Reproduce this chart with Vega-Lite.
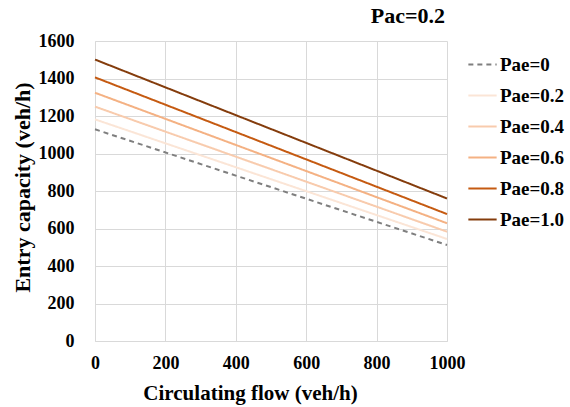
{
  "$schema": "https://vega.github.io/schema/vega-lite/v6.json",
  "autosize": "none",
  "width": 352,
  "height": 300,
  "padding": {"left": 95, "top": 41, "right": 123, "bottom": 66},
  "background": "white",
  "title": {
    "text": "Pac=0.2",
    "anchor": "end",
    "frame": "group",
    "dx": -2,
    "offset": 4,
    "font": "Liberation Serif",
    "fontSize": 22,
    "fontWeight": "bold",
    "color": "black"
  },
  "config": {
    "view": {"stroke": null},
    "font": "Liberation Serif"
  },
  "data": {
    "values": [
      {"flow": 0, "cap": 1129, "series": "Pae=0"},
      {"flow": 1000, "cap": 512, "series": "Pae=0"},
      {"flow": 0, "cap": 1182, "series": "Pae=0.2"},
      {"flow": 1000, "cap": 544, "series": "Pae=0.2"},
      {"flow": 0, "cap": 1250, "series": "Pae=0.4"},
      {"flow": 1000, "cap": 583, "series": "Pae=0.4"},
      {"flow": 0, "cap": 1324, "series": "Pae=0.6"},
      {"flow": 1000, "cap": 628, "series": "Pae=0.6"},
      {"flow": 0, "cap": 1406, "series": "Pae=0.8"},
      {"flow": 1000, "cap": 677, "series": "Pae=0.8"},
      {"flow": 0, "cap": 1501, "series": "Pae=1.0"},
      {"flow": 1000, "cap": 760, "series": "Pae=1.0"}
    ]
  },
  "mark": {"type": "line", "strokeWidth": 2},
  "encoding": {
    "x": {
      "field": "flow",
      "type": "quantitative",
      "scale": {"domain": [0, 1000], "nice": false},
      "axis": {
        "title": "Circulating flow (veh/h)",
        "values": [0, 200, 400, 600, 800, 1000],
        "format": "d",
        "labelFont": "Liberation Serif",
        "labelFontSize": 18,
        "labelFontWeight": "bold",
        "labelColor": "black",
        "labelPadding": 13,
        "titleFont": "Liberation Serif",
        "titleFontSize": 21,
        "titleFontWeight": "bold",
        "titleColor": "black",
        "titleX": 155,
        "titleY": 41,
        "titleAlign": "center",
        "titleBaseline": "top",
        "ticks": false,
        "grid": true,
        "gridColor": "#d9d9d9",
        "domainColor": "#d9d9d9",
        "labelFlush": false
      }
    },
    "y": {
      "field": "cap",
      "type": "quantitative",
      "scale": {"domain": [0, 1600], "nice": false},
      "axis": {
        "title": "Entry capacity (veh/h)",
        "values": [0, 200, 400, 600, 800, 1000, 1200, 1400, 1600],
        "format": "d",
        "labelFont": "Liberation Serif",
        "labelFontSize": 18,
        "labelFontWeight": "bold",
        "labelColor": "black",
        "labelPadding": 21,
        "titleFont": "Liberation Serif",
        "titleFontSize": 22,
        "titleFontWeight": "bold",
        "titleColor": "black",
        "titleX": -73,
        "titleY": 146,
        "titleAngle": -90,
        "titleAlign": "center",
        "titleBaseline": "middle",
        "ticks": false,
        "grid": true,
        "gridColor": "#d9d9d9",
        "domainColor": "#d9d9d9",
        "labelFlush": false
      }
    },
    "color": {
      "field": "series",
      "type": "nominal",
      "scale": {
        "domain": ["Pae=0", "Pae=0.2", "Pae=0.4", "Pae=0.6", "Pae=0.8", "Pae=1.0"],
        "range": ["#7f7f7f", "#fbe5d6", "#f8cbad", "#f4b183", "#c55a11", "#843c0c"]
      },
      "legend": {
        "title": null,
        "orient": "none",
        "legendX": 372,
        "legendY": 8,
        "symbolType": "stroke",
        "symbolSize": 800,
        "symbolStrokeWidth": 2,
        "labelFont": "Liberation Serif",
        "labelFontSize": 19,
        "labelFontWeight": "bold",
        "labelColor": "black",
        "labelOffset": 2,
        "rowPadding": 5
      }
    },
    "strokeDash": {
      "field": "series",
      "type": "nominal",
      "scale": {
        "domain": ["Pae=0", "Pae=0.2", "Pae=0.4", "Pae=0.6", "Pae=0.8", "Pae=1.0"],
        "range": [[5, 4], [1, 0], [1, 0], [1, 0], [1, 0], [1, 0]]
      },
      "legend": {
        "title": null,
        "orient": "none",
        "legendX": 372,
        "legendY": 8,
        "symbolType": "stroke",
        "symbolSize": 800,
        "symbolStrokeWidth": 2,
        "labelFont": "Liberation Serif",
        "labelFontSize": 19,
        "labelFontWeight": "bold",
        "labelColor": "black",
        "labelOffset": 2,
        "rowPadding": 5
      }
    }
  }
}
